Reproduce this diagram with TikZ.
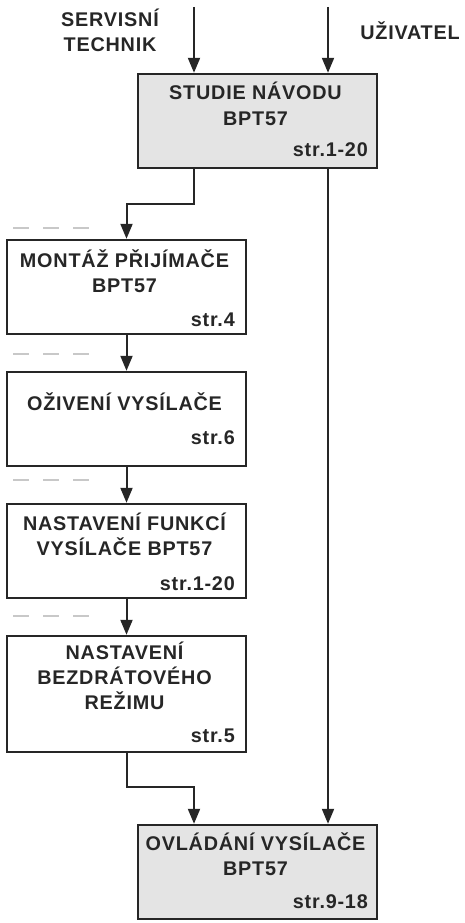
\documentclass[tikz,border=0pt]{standalone}
\usepackage{fontspec}
\setmainfont{Liberation Sans}[LetterSpace=4]
\usetikzlibrary{arrows.meta}
\definecolor{ink}{HTML}{262626}
\definecolor{boxfill}{HTML}{E4E4E4}
\definecolor{dashgray}{HTML}{C8C8C8}
\tikzset{
  box/.style={draw=ink, line width=2.4pt, minimum width=239pt, inner sep=0pt},
  shaded/.style={box, fill=boxfill},
  txt/.style={anchor=base, inner sep=0pt, text=ink, font=\fontsize{19.8}{25}\selectfont\bfseries},
  pg/.style={anchor=base east, inner sep=0pt, text=ink, font=\fontsize{19.8}{25}\selectfont\bfseries},
  arr/.style={draw=ink, line width=2pt, -{Triangle[length=15pt,width=12pt]}},
  lin/.style={draw=ink, line width=2pt},
  sep/.style={draw=dashgray, line width=2pt, dash pattern=on 16pt off 14pt}
}
\begin{document}
\begin{tikzpicture}[x=1pt,y=-1pt]
\useasboundingbox (0,0) rectangle (465,923);
% boxes
\node[shaded, minimum height=94pt] (b1) at (257.5,121) {};
\node[box, minimum height=94pt] (b2) at (126.5,287) {};
\node[box, minimum height=94pt] (b3) at (126.5,419) {};
\node[box, minimum height=94pt] (b4) at (126.5,551) {};
\node[box, minimum height=116pt] (b5) at (126.5,694) {};
\node[shaded, minimum height=94pt] (b6) at (257.5,872) {};
% top labels
\node[txt] (l1a) at (110,26.5) {SERVISNÍ};
\node[txt] (l1b) at (110,51.5) {TECHNIK};
\node[txt] (l2) at (410,40) {UŽIVATEL};
% box texts
\node[txt] (t1a) at (255.5,100) {STUDIE NÁVODU};
\node[txt] (t1b) at (255.5,125.5) {BPT57};
\node[pg] (p1) at (368,156.5) {str.1-20};
\node[txt] (t2a) at (124.5,267) {MONTÁŽ PŘIJÍMAČE};
\node[txt] (t2b) at (124.5,292) {BPT57};
\node[pg] (p2) at (235,326) {str.4};
\node[txt] (t3a) at (124.5,410) {OŽIVENÍ VYSÍLAČE};
\node[pg] (p3) at (235,444) {str.6};
\node[txt] (t4a) at (124.5,530) {NASTAVENÍ FUNKCÍ};
\node[txt] (t4b) at (124.5,555.5) {VYSÍLAČE BPT57};
\node[pg] (p4) at (235,590) {str.1-20};
\node[txt] (t5a) at (124.5,659) {NASTAVENÍ};
\node[txt] (t5b) at (124.5,684) {BEZDRÁTOVÉHO};
\node[txt] (t5c) at (124.5,709) {REŽIMU};
\node[pg] (p5) at (235,742.5) {str.5};
\node[txt] (t6a) at (255.5,850) {OVLÁDÁNÍ VYSÍLAČE};
\node[txt] (t6b) at (255.5,875.5) {BPT57};
\node[pg] (p6) at (368,908) {str.9-18};
% connectors
\coordinate (s1) at (194,7);
\coordinate (s2) at (328,7);
\draw[arr] (s1) -- (s1 |- b1.north);
\draw[arr] (s2) -- (s2 |- b1.north);
\draw[arr] (s1 |- b1.south) -- ++(0,35) -| (b2.north);
\draw[arr] (b2.south) -- (b3.north);
\draw[arr] (b3.south) -- (b4.north);
\draw[arr] (b4.south) -- (b5.north);
\draw[arr] (b5.south) -- ++(0,34) -| (s1 |- b6.north);
\draw[arr] (s2 |- b1.south) -- (s2 |- b6.north);
% grey dashes
\coordinate (d1) at (13,228);
\coordinate (d2) at (13,354);
\coordinate (d3) at (13,480);
\coordinate (d4) at (13,616);
\draw[sep] (d1) -- ++(78,0);
\draw[sep] (d2) -- ++(78,0);
\draw[sep] (d3) -- ++(78,0);
\draw[sep] (d4) -- ++(78,0);
\end{tikzpicture}
\end{document}
